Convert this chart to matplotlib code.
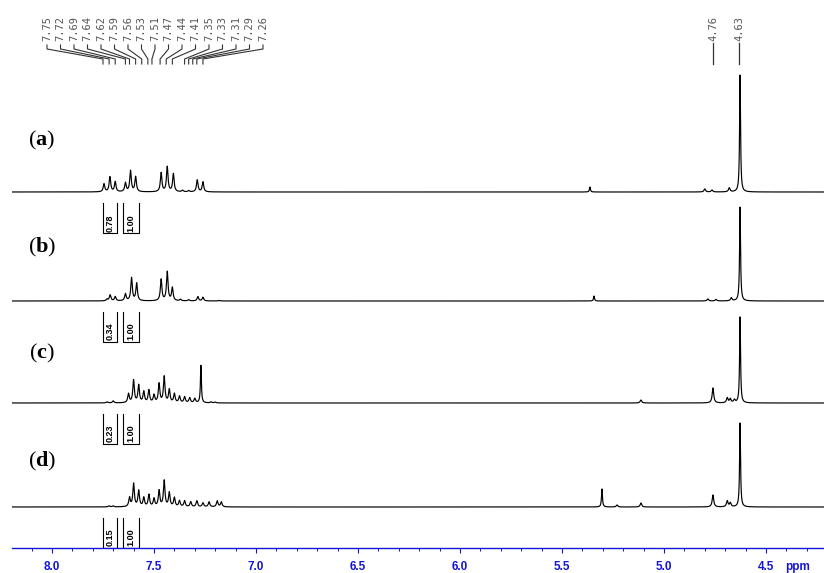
import numpy as np
import matplotlib
matplotlib.use("Agg")
import matplotlib.pyplot as plt
from matplotlib.ticker import MultipleLocator

plt.rcParams['mathtext.fontset'] = 'custom'
plt.rcParams['mathtext.rm'] = 'Liberation Serif'
plt.rcParams['mathtext.bf'] = 'Liberation Serif:bold'

# ---------------- data ----------------
A_ppm = [7.745, 7.716, 7.69, 7.64, 7.615, 7.59, 7.465, 7.435, 7.405, 7.36, 7.33,
         7.288, 7.26, 5.363, 4.80, 4.765, 4.68, 4.627]
A_h = [8, 15, 10, 9, 21, 15, 19, 25, 18, 1.5, 1.2, 12, 10, 5, 3, 2, 4, 117]

B_ppm = [7.73, 7.715, 7.69, 7.64, 7.61, 7.585, 7.465, 7.435, 7.41, 7.37, 7.33,
         7.285, 7.26, 7.18, 5.343, 4.785, 4.745, 4.67, 4.627]
B_h = [1.7, 6, 4.3, 7, 23, 17.5, 21.5, 29, 13, 1.5, 1.2, 4.3, 3.7, 0.5, 5, 2, 1.5, 3, 94]

C_ppm = [7.73, 7.70, 7.625, 7.60, 7.575, 7.55, 7.525, 7.50, 7.475, 7.45, 7.425, 7.40,
         7.375, 7.35, 7.325, 7.30, 7.27, 7.22, 7.20, 5.113, 4.76, 4.69, 4.675, 4.655, 4.627]
C_h = [1, 2, 9, 22.5, 17.5, 11, 12.5, 7.5, 19, 26, 13, 9, 6.5, 6, 5, 4.3, 37.5, 1, 0.8,
       3, 15, 5, 4, 3, 86]

D_ppm = [7.72, 7.70, 7.62, 7.60, 7.575, 7.55, 7.525, 7.50, 7.475, 7.45, 7.425, 7.40,
         7.375, 7.35, 7.32, 7.29, 7.26, 7.23, 7.19, 7.17, 5.304, 5.23, 5.113, 4.76,
         4.69, 4.675, 4.627]
D_h = [1, 1, 9, 23, 16, 9, 12, 8, 16, 26, 14, 9, 6, 6, 5, 6, 4, 5, 6, 5, 18, 2, 4, 12,
       6, 4, 84]

SHARP_PEAKS = [4.627, 7.27, 5.304, 5.363, 5.343]

SPECTRA_LABELS = ['a', 'b', 'c', 'd']

PEAK_LABELS_AROM = ['7.75', '7.72', '7.69', '7.64', '7.62', '7.59', '7.56', '7.53', '7.51',
                    '7.47', '7.44', '7.41', '7.35', '7.33', '7.31', '7.29', '7.26']
PEAK_LABELS_ALIPH = ['4.76', '4.63']

INT_RANGES = [(7.75, 7.68), (7.65, 7.575)]
INT_A = ['0.78', '1.00']
INT_B = ['0.34', '1.00']
INT_C = ['0.23', '1.00']
INT_D = ['0.15', '1.00']

XTICKS = [8.0, 7.5, 7.0, 6.5, 6.0, 5.5, 5.0, 4.5]

# ---------------- layout helpers ----------------
W, H = 824, 573
AX_L, AX_B = 12, 548          # pixel position of axis left edge and axis line
PX_PER_PPM = 204.0
X_LEFT = 8.196
X_RIGHT = X_LEFT - (W - AX_L) / PX_PER_PPM


def xppm(xpx):
    return X_LEFT - (xpx - AX_L) / PX_PER_PPM


def yd(ypx):
    return AX_B - ypx


BASELINES = [192, 301, 403, 507]   # pixel rows of baselines
LABEL_Y = [140, 247, 353, 461]
GAMMA = 0.0045
GAMMA_SHARP = 0.0028

blue = '#1515d6'

fig = plt.figure(figsize=(W / 100, H / 100), dpi=100)
ax = fig.add_axes([AX_L / W, (H - AX_B) / H, (W - AX_L) / W, AX_B / H])
ax.set_xlim(X_LEFT, X_RIGHT)
ax.set_ylim(0, AX_B)

grid = np.linspace(8.3, 4.1, 24001)


def spectrum(ppms, hs):
    total = np.zeros_like(grid)
    for p, h in zip(ppms, hs):
        g = GAMMA_SHARP if p in SHARP_PEAKS else GAMMA
        total += h * g ** 2 / ((grid - p) ** 2 + g ** 2)
    return total


all_ppm = [A_ppm, B_ppm, C_ppm, D_ppm]
all_h = [A_h, B_h, C_h, D_h]
all_int = [INT_A, INT_B, INT_C, INT_D]

for i in range(4):
    base = yd(BASELINES[i])
    y = spectrum(all_ppm[i], all_h[i])
    ax.plot(grid, base + y, color='black', lw=0.85, solid_joinstyle='round')
    # spectrum label
    fig.text(42 / W, (H - LABEL_Y[i]) / H, r'($\mathbf{%s}$)' % SPECTRA_LABELS[i],
             fontsize=16, family='Liberation Serif', ha='center', va='center')
    # integrals
    top = yd(BASELINES[i] + 11)
    bot = yd(BASELINES[i] + 41)
    for (p1, p2), lab in zip(INT_RANGES, all_int[i]):
        ax.plot([p1, p1, p2, p2], [top, bot, bot, top], color='black', lw=0.8)
        ax.text((p1 + p2) / 2, bot + 1.5, lab, rotation=90, ha='center', va='bottom',
                fontsize=6.5, fontweight='bold', family='Liberation Sans')

# peak labels (aromatic fan)
label_font = dict(fontsize=7.5, family='DejaVu Sans Mono', color='#555555',
                  rotation=90, ha='center', va='bottom')
for k, lab in enumerate(PEAK_LABELS_AROM):
    lx = 47 + 13.5 * k
    pv = float(lab)
    ax.text(xppm(lx), yd(41), lab, **label_font)
    ax.plot([xppm(lx), xppm(lx), pv, pv], [yd(45), yd(49), yd(59), yd(64)],
            color='#333333', lw=0.8)
for lab in PEAK_LABELS_ALIPH:
    pv = float(lab)
    ax.text(pv, yd(41), lab, **label_font)
    ax.plot([pv, pv], [yd(43), yd(64)], color='#333333', lw=0.9)

# axis styling
for s in ['top', 'left', 'right']:
    ax.spines[s].set_visible(False)
ax.spines['bottom'].set_color(blue)
ax.spines['bottom'].set_linewidth(1.0)
ax.set_yticks([])
ax.set_xticks(XTICKS)
ax.set_xticklabels(['%.1f' % t for t in XTICKS])
ax.xaxis.set_minor_locator(MultipleLocator(0.1))
ax.tick_params(axis='x', which='major', direction='out', length=3.5, width=0.8,
               color=blue, labelcolor=blue, labelsize=8.5, pad=6)
ax.tick_params(axis='x', which='minor', direction='out', length=2.2, width=0.7, color=blue)
for t in ax.get_xticklabels():
    t.set_fontweight('bold')
    t.set_family('Liberation Sans')
fig.text(785 / W, (H - 567) / H, 'ppm', color=blue, fontsize=8.5, fontweight='bold',
         family='Liberation Sans', ha='left', va='center')

fig.savefig('out.png', dpi=100)
